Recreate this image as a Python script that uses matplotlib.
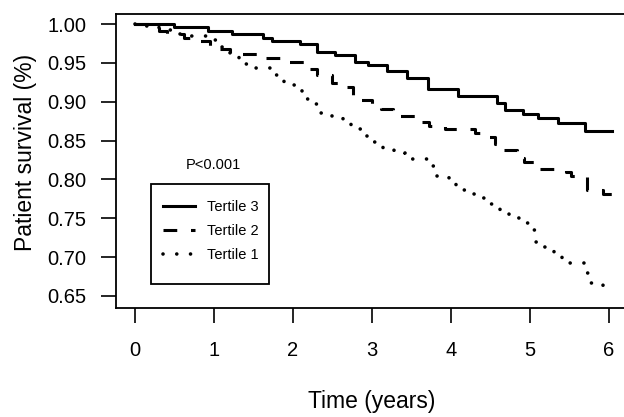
import matplotlib
matplotlib.use('Agg')
import matplotlib.pyplot as plt
from matplotlib.patches import Rectangle

plt.rcParams['font.family'] = ['Liberation Sans', 'DejaVu Sans']

# Kaplan-Meier steps (time in years, survival after step)
t3 = [0, 0.50, 0.92, 1.23, 1.62, 1.73, 2.09, 2.30, 2.53, 2.79, 2.95, 3.19, 3.44,
      3.71, 4.09, 4.58, 4.68, 4.91, 5.10, 5.35, 5.70, 6.04]
s3 = [1.0, 0.996, 0.991, 0.987, 0.982, 0.978, 0.974, 0.964, 0.960, 0.9515, 0.947,
      0.9395, 0.930, 0.917, 0.908, 0.898, 0.889, 0.884, 0.879, 0.872, 0.862, 0.862]

t2 = [0, 0.30, 0.40, 0.62, 0.72, 0.95, 1.05, 1.20, 1.55, 1.90, 2.20, 2.30, 2.50,
      2.60, 2.76, 2.85, 3.00, 3.12, 3.27, 3.62, 3.72, 3.92, 4.30, 4.42, 4.56, 4.64,
      4.84, 4.92, 5.08, 5.45, 5.52, 5.72, 5.92, 6.04]
s2 = [1.0, 0.991, 0.987, 0.982, 0.978, 0.972, 0.968, 0.961, 0.956, 0.951, 0.942,
      0.935, 0.924, 0.919, 0.908, 0.902, 0.896, 0.891, 0.882, 0.874, 0.869, 0.865,
      0.860, 0.855, 0.845, 0.838, 0.828, 0.822, 0.813, 0.809, 0.804, 0.786, 0.781,
      0.781]

t1 = [0, 0.10, 0.30, 0.45, 0.70, 0.90, 1.10, 1.20, 1.32, 1.50, 1.78, 1.88, 2.02,
      2.12, 2.25, 2.36, 2.50, 2.63, 2.74, 2.87, 3.00, 3.14, 3.28, 3.42, 3.72, 3.82,
      3.98, 4.06, 4.20, 4.36, 4.50, 4.62, 4.73, 4.86, 4.98, 5.06, 5.18, 5.30, 5.40,
      5.68, 5.76, 5.92, 6.04]
s1 = [1.0, 0.997, 0.992, 0.987, 0.984, 0.980, 0.970, 0.958, 0.948, 0.944, 0.935,
      0.922, 0.916, 0.904, 0.897, 0.886, 0.882, 0.874, 0.865, 0.856, 0.848, 0.841,
      0.834, 0.826, 0.817, 0.804, 0.800, 0.786, 0.781, 0.776, 0.768, 0.760, 0.750,
      0.744, 0.735, 0.720, 0.713, 0.705, 0.692, 0.680, 0.667, 0.663, 0.663]

xticks = [0, 1, 2, 3, 4, 5, 6]
yticks = [0.65, 0.70, 0.75, 0.80, 0.85, 0.90, 0.95, 1.00]

fig = plt.figure(figsize=(6.24, 4.17), dpi=100)
ax = fig.add_axes([116 / 624, 1 - 308 / 417, 512 / 624, 294 / 417])

ax.step(t3, s3, where='post', color='black', lw=2.2, label='Tertile 3')
ax.step(t2, s2, where='post', color='black', lw=2.2, linestyle=(0, (4.5, 4.5)),
        label='Tertile 2')
ax.step(t1, s1, where='post', color='black', lw=2.6, linestyle=(0, (0.01, 3.8)),
        dash_capstyle='round', label='Tertile 1')

ax.set_xlim(-0.24, 6.24)
ax.set_ylim(0.6345, 1.0129)
ax.set_xticks(xticks)
ax.set_xticklabels([str(x) for x in xticks])
ax.set_yticks(yticks)
ax.set_yticklabels(['%.2f' % y for y in yticks])

for sp in ax.spines.values():
    sp.set_linewidth(1.3)
ax.tick_params(direction='out', length=10.5, width=1.2, labelsize=14.5,
               colors='black')
ax.tick_params(axis='x', pad=13)
ax.tick_params(axis='y', pad=11)

ax.set_xlabel('Time (years)', fontsize=16.5)
ax.xaxis.set_label_coords(0.5, -0.28)
ax.set_ylabel('Patient survival (%)', fontsize=16.5)
ax.yaxis.set_label_coords(-0.155, 0.53)

ax.text(0.99, 0.8185, 'P<0.001', ha='center', va='center', fontsize=10.5)

# legend box drawn separately so its size matches the original
ax.add_patch(Rectangle((0.0684, 0.0816), 0.2305, 0.340, transform=ax.transAxes,
                       fill=False, edgecolor='black', lw=1.3, zorder=4))
leg = ax.legend(loc='upper left', bbox_to_anchor=(0.0918, 0.366), borderaxespad=0,
                fontsize=10.5, frameon=False, borderpad=0,
                handlelength=2.2, handletextpad=0.85, labelspacing=0.68)

fig.savefig('out.png', dpi=100)
